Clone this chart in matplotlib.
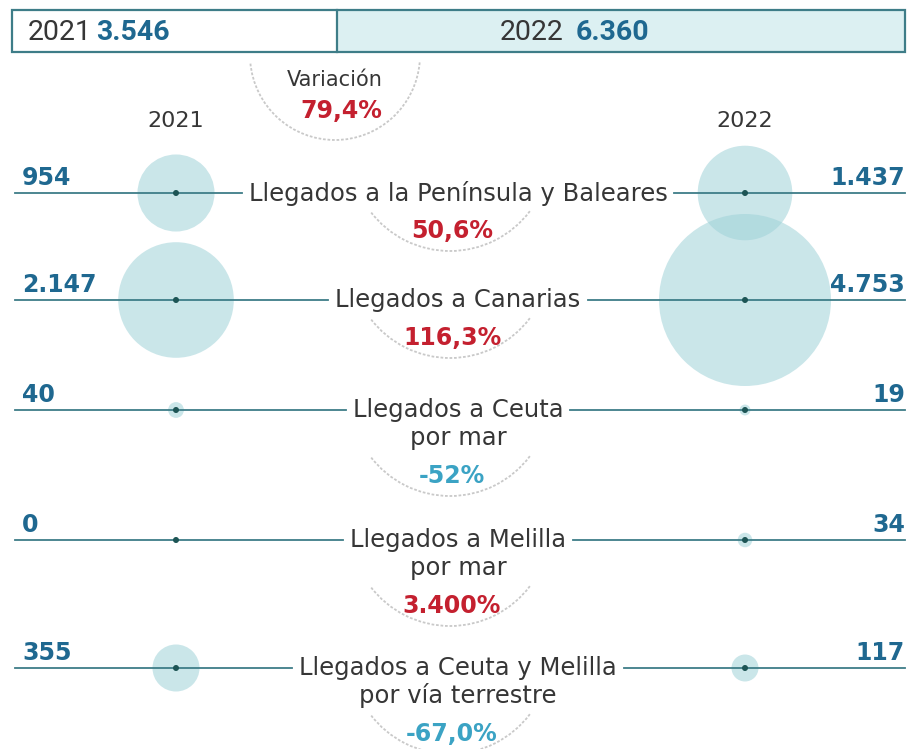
import matplotlib
matplotlib.use("Agg")
import numpy as np
import matplotlib.pyplot as plt
from matplotlib.patches import Rectangle, Circle, Arc

# ---------------------------------------------------
# Data
# ---------------------------------------------------
years = ["2021", "2022"]
totals = [3546, 6360]
total_variation = "79,4%"

categories = [
    "Llegados a la Península y Baleares",
    "Llegados a Canarias",
    "Llegados a Ceuta\npor mar",
    "Llegados a Melilla\npor mar",
    "Llegados a Ceuta y Melilla\npor vía terrestre",
]
values_2021 = [954, 2147, 40, 0, 355]
values_2022 = [1437, 4753, 19, 34, 117]
variations = ["50,6%", "116,3%", "-52%", "3.400%", "-67,0%"]

# ---------------------------------------------------
# Style / layout
# ---------------------------------------------------
W, H = 917, 749
FONT = "DejaVu Sans"
HEAD_FONT = "Roboto"
DARK = "#363636"
NUM_BLUE = "#1f6890"
RED = "#c4202f"
NEG_BLUE = "#3ba3c4"
LINE = "#3e7d88"
BUBBLE = "#9fd2d8"
DOT = "#1d5555"
ARC = "#c9c9c9"

row_y = [193, 300, 410, 540, 668]
x_left, x_right = 176, 745
x_mid = 458
max_r = 86


def fmt(v):
    return f"{v:,}".replace(",", ".")


def bbox_data(ax, txt):
    r = ax.figure.canvas.get_renderer()
    bb = txt.get_window_extent(renderer=r)
    inv = ax.transData.inverted()
    (x0, y0), (x1, y1) = inv.transform([(bb.x0, bb.y0), (bb.x1, bb.y1)])
    return x0, x1


fig = plt.figure(figsize=(W / 100, H / 100), dpi=100)
ax = fig.add_axes([0, 0, 1, 1])
ax.set_xlim(0, W)
ax.set_ylim(H, 0)
ax.axis("off")

# ---------------------------------------------------
# Header box
# ---------------------------------------------------
ax.add_patch(Rectangle((337, 10), 905 - 337, 42, facecolor="#dcf0f2", edgecolor="none", zorder=1))
ax.add_patch(Rectangle((12, 10), 893, 42, facecolor="none", edgecolor=LINE, lw=1.6, zorder=3))
ax.plot([337, 337], [10, 52], color=LINE, lw=1.6, zorder=3)

t = ax.text(28, 32, years[0], fontsize=20.5, color=DARK, family=HEAD_FONT, va="center", ha="left")
fig.canvas.draw()
_, x1 = bbox_data(ax, t)
ax.text(x1 + 4, 32, fmt(totals[0]), fontsize=20.5, color=NUM_BLUE, family=HEAD_FONT,
        fontweight="bold", va="center", ha="left")
t = ax.text(500, 32, years[1], fontsize=20.5, color=DARK, family=HEAD_FONT, va="center", ha="left")
fig.canvas.draw()
_, x1 = bbox_data(ax, t)
ax.text(x1 + 12, 32, fmt(totals[1]), fontsize=20.5, color=NUM_BLUE, family=HEAD_FONT,
        fontweight="bold", va="center", ha="left")

# total variation arc
ax.add_patch(Arc((335, 55), 170, 170, theta1=5, theta2=175, color=ARC, lw=1.3,
                 linestyle=(0, (1.5, 1)), zorder=2))
ax.text(335, 80, "Variación", fontsize=15, color=DARK, family=FONT, ha="center", va="center")
ax.text(341, 111, total_variation, fontsize=17, color=RED, family=FONT,
        fontweight="bold", ha="center", va="center")

# column headers
ax.text(x_left, 121, years[0], fontsize=16, color=DARK, family=FONT, ha="center", va="center")
ax.text(x_right, 121, years[1], fontsize=16, color=DARK, family=FONT, ha="center", va="center")

# ---------------------------------------------------
# Rows
# ---------------------------------------------------
k = max_r / np.sqrt(max(values_2021 + values_2022))
for i, (cat, v1, v2, var) in enumerate(zip(categories, values_2021, values_2022, variations)):
    y = row_y[i]
    lines = cat.split("\n")

    # bubbles
    for x, v in [(x_left, v1), (x_right, v2)]:
        if v > 0:
            ax.add_patch(Circle((x, y), k * np.sqrt(v), facecolor=BUBBLE, edgecolor="none",
                                alpha=0.55, zorder=1))
        ax.add_patch(Circle((x, y), 3, facecolor=DOT, edgecolor="none", zorder=4))

    # label
    t = ax.text(x_mid, y, lines[0], fontsize=17.5, color=DARK, family=FONT,
                ha="center", va="center", zorder=5)
    fig.canvas.draw()
    lx0, lx1 = bbox_data(ax, t)
    ly = y
    for extra in lines[1:]:
        ly += 28
        ax.text(x_mid, ly, extra, fontsize=17.5, color=DARK, family=FONT,
                ha="center", va="center", zorder=5)

    # row lines
    ax.plot([15, lx0 - 7], [y, y], color=LINE, lw=1.3, zorder=3)
    ax.plot([lx1 + 7, 905], [y, y], color=LINE, lw=1.3, zorder=3)

    # values
    ax.text(22, y - 3, fmt(v1), fontsize=17, color=NUM_BLUE, family=FONT,
            fontweight="bold", ha="left", va="bottom")
    ax.text(905, y - 3, fmt(v2), fontsize=17, color=NUM_BLUE, family=FONT,
            fontweight="bold", ha="right", va="bottom")

    # variation
    py = ly + 38
    col = NEG_BLUE if var.startswith("-") else RED
    ax.text(x_mid - 6, py, var, fontsize=17, color=col, family=FONT,
            fontweight="bold", ha="center", va="center", zorder=5)
    ax.add_patch(Arc((x_mid - 8, py - 80), 200, 200, theta1=37, theta2=143, color=ARC,
                     lw=1.3, linestyle=(0, (1.5, 1)), zorder=2))

fig.savefig("out.png", dpi=100, facecolor="white")
